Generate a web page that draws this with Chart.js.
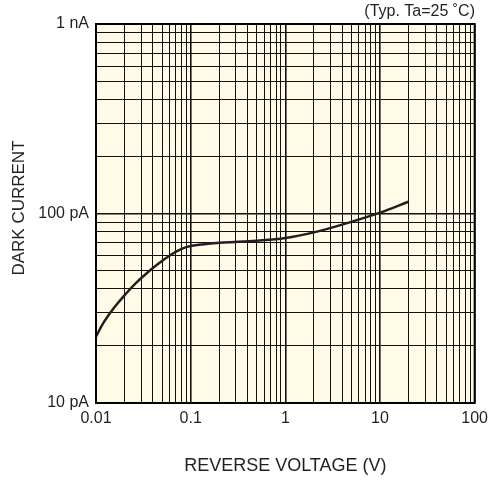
<!DOCTYPE html>
<html>
<head>
<meta charset="utf-8">
<script src="https://cdn.jsdelivr.net/npm/chart.js@4/dist/chart.umd.min.js"></script>
<style>
html,body{margin:0;padding:0;background:#fff;}
#wrap{width:494px;height:481px;}
</style>
</head>
<body>
<div id="wrap"><canvas id="c" width="494" height="481"></canvas></div>
<script>
// Data (reverse voltage in V, dark current in pA)
const voltage = [0.01, 0.0121, 0.0155, 0.0201, 0.0262, 0.0348, 0.0462, 0.0614, 0.0783, 0.1, 0.138, 0.22, 0.5, 1, 2, 4.4, 10, 20];
const darkCurrent = [22.4, 26.7, 31.8, 37.1, 42.8, 48.7, 54.6, 60.4, 64.7, 67.3, 68.8, 70.2, 71.8, 74.2, 79.5, 88.7, 101, 115.4];

const xTickValues = [0.01, 0.1, 1, 10, 100];
const xTickLabels = ['0.01', '0.1', '1', '10', '100'];
const yTickValues = [10, 100, 1000];
const yTickLabels = ['10 pA', '100 pA', '1 nA'];

const xTitle = 'REVERSE VOLTAGE (V)';
const yTitle = 'DARK CURRENT';
const noteText = '(Typ. Ta=25 \u02DAC)';

const FONT = '"Liberation Sans", Arial, Helvetica, sans-serif';
const INK = '#231f20';

function logGrid(values) {
  const out = [];
  for (let i = 0; i < values.length; i++) {
    const d = values[i];
    out.push(d);
    if (i < values.length - 1) {
      for (let m = 2; m <= 9; m++) out.push(+(d * m).toPrecision(6));
    }
  }
  return out;
}
function isMajor(v, majors) {
  return majors.some(m => Math.abs(Math.log10(v) - Math.log10(m)) < 1e-6);
}
function labelFor(v, majors, labels) {
  for (let i = 0; i < majors.length; i++) {
    if (Math.abs(Math.log10(v) - Math.log10(majors[i])) < 1e-6) return labels[i];
  }
  return '';
}

const frame = {
  id: 'frame',
  beforeDraw(chart) {
    const {ctx, chartArea: a} = chart;
    ctx.save();
    ctx.fillStyle = '#fffbe6';
    ctx.fillRect(a.left, a.top, a.right - a.left, a.bottom - a.top);
    ctx.restore();
  },
  afterDraw(chart) {
    const {ctx, chartArea: a} = chart;
    ctx.save();
    ctx.strokeStyle = '#000';
    ctx.lineWidth = 2;
    ctx.strokeRect(a.left, a.top, a.right - a.left, a.bottom - a.top);
    ctx.fillStyle = INK;
    ctx.font = '16px ' + FONT;
    ctx.textAlign = 'right';
    ctx.textBaseline = 'middle';
    ctx.fillText(noteText, 475, 12);
    ctx.font = '18px ' + FONT;
    ctx.textAlign = 'center';
    ctx.fillText(xTitle, (a.left + a.right) / 2, 466);
    ctx.font = '17px ' + FONT;
    ctx.translate(19, 208);
    ctx.rotate(-Math.PI / 2);
    ctx.fillText(yTitle, 0, 0);
    ctx.restore();
  }
};

new Chart(document.getElementById('c'), {
  type: 'line',
  data: {
    datasets: [{
      data: voltage.map((v, i) => ({x: v, y: darkCurrent[i]})),
      borderColor: INK,
      borderWidth: 2.5,
      pointRadius: 0,
      fill: false,
      tension: 0.4
    }]
  },
  options: {
    responsive: false,
    animation: false,
    devicePixelRatio: 1,
    layout: {padding: {left: 0, top: 24, right: 19, bottom: 0}},
    plugins: {legend: {display: false}, tooltip: {enabled: false}, title: {display: false}},
    scales: {
      x: {
        type: 'logarithmic',
        min: 0.01, max: 100,
        afterFit(s) { s.height = 78; },
        afterBuildTicks(s) { s.ticks = logGrid(xTickValues).map(v => ({value: v})); },
        ticks: {
          autoSkip: false, maxRotation: 0, minRotation: 0, padding: 6,
          color: INK, font: {family: FONT, size: 16},
          callback: v => labelFor(v, xTickValues, xTickLabels)
        },
        grid: {
          drawTicks: false, color: '#111',
          lineWidth: c => (c.tick && isMajor(c.tick.value, xTickValues)) ? 1.6 : 1
        },
        border: {display: false}
      },
      y: {
        type: 'logarithmic',
        min: 10, max: 1000,
        afterFit(s) { s.width = 96; },
        afterBuildTicks(s) { s.ticks = logGrid(yTickValues).map(v => ({value: v})); },
        ticks: {
          autoSkip: false, padding: 7,
          color: INK, font: {family: FONT, size: 16},
          callback: v => labelFor(v, yTickValues, yTickLabels)
        },
        grid: {
          drawTicks: false, color: '#111',
          lineWidth: c => (c.tick && isMajor(c.tick.value, yTickValues)) ? 1.6 : 1
        },
        border: {display: false}
      }
    }
  },
  plugins: [frame]
});
</script>
</body>
</html>
